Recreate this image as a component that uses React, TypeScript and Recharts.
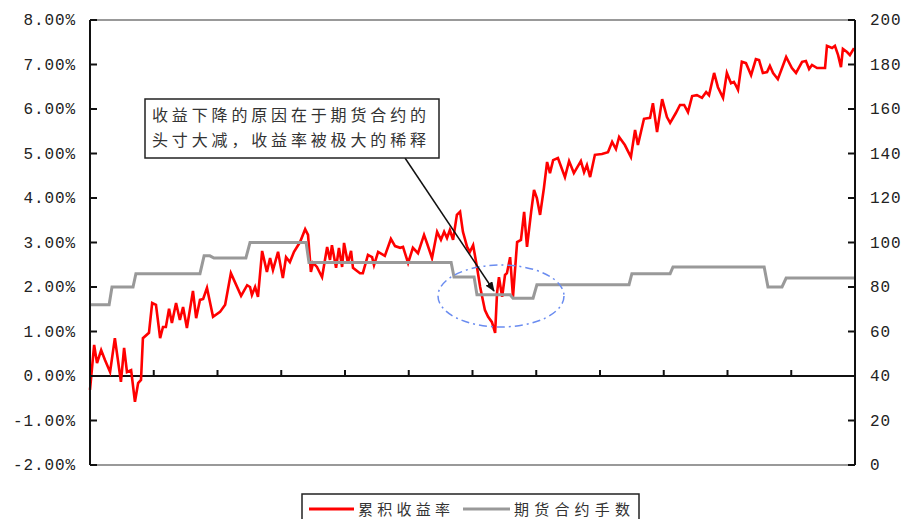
import React from "react";
import { LineChart, Line, XAxis, YAxis, ReferenceLine } from "recharts";

// cumulative return (%), trading-day index
const redDays = [
  0, 1.3, 2.2, 3.5, 4.7, 6.3, 7.8, 9.7, 10.7, 11.6, 12.9, 14.1, 15.1, 16.0, 16.6, 18.5, 19.5, 20.7, 22.0, 22.9,
  23.8, 24.8, 25.7, 27.0, 28.2, 29.2, 30.4, 32.3, 33.3, 34.5, 35.5, 36.7, 38.6, 40.8, 42.4, 44.2, 47.4, 49.3,
  50.2, 50.8, 51.8, 52.7, 54.0, 55.5, 56.5, 57.4, 59.0, 59.9, 60.5, 61.5, 62.7, 64.0, 65.9, 67.5, 68.4, 69.3,
  70.0, 71.2, 72.8, 74.4, 75.3, 75.9, 77.2, 78.1, 79.1, 79.7, 80.9, 81.9, 82.5, 84.7, 85.6, 87.2, 88.5, 89.1,
  90.4, 92.5, 94.4, 95.7, 97.3,
  98.2, 99.8, 101.3, 102.9, 104.8, 105.7, 107.3, 108.9, 110.1, 111.1, 112.0, 112.9, 113.9, 115.1, 116.1, 117.0,
  118.3, 119.2, 120.2, 121.4, 122.4, 123.9, 124.9, 126.1, 127.1, 127.7, 128.3, 129.3, 130.2, 130.8, 131.8, 132.7,
  134.0, 135.2, 136.2, 137.1, 138.4, 139.3, 140.2, 141.2, 142.4, 143.4, 144.3, 145.3,
  146.8, 149.0, 150.3, 151.8, 154.0, 155.0, 155.9, 156.9, 158.4, 160.6, 162.5, 163.8, 165.0, 166.0, 167.8, 169.7,
  171.0, 171.9, 173.8, 175.7, 176.6, 177.9, 179.5, 181.0, 182.0, 183.8, 185.1, 186.4, 187.6, 188.9, 190.4, 192.0,
  193.3, 194.2,
  195.8, 197.0, 198.6, 199.8, 201.1, 202.0, 202.7, 203.3, 204.5, 205.8, 207.4, 208.9, 209.9, 211.1, 212.4, 213.3,
  214.3, 215.8, 218.4, 220.2, 221.5, 223.4, 224.6, 225.6, 226.5, 228.1, 230.6, 231.2, 232.8, 233.7, 234.7, 235.6,
  236.2, 237.5, 238.4, 239.7,
];

const returns = [
  -0.31, 0.7, 0.29, 0.58, 0.36, 0.09, 0.85, -0.13, 0.63, 0.09, 0.13, -0.58, -0.16, -0.09, 0.85, 0.97, 1.64, 1.6, 0.85, 1.1,
  1.1, 1.51, 1.19, 1.64, 1.26, 1.55, 1.08, 1.91, 1.3, 1.71, 1.73, 1.98, 1.33, 1.44, 1.6, 2.31, 1.8, 2.04,
  2.0, 1.82, 2.0, 1.78, 2.81, 2.34, 2.65, 2.38, 2.79, 2.43, 2.2, 2.67, 2.56, 2.79, 3.01, 3.3, 3.17, 2.34,
  2.54, 2.45, 2.22, 2.9, 2.61, 2.94, 2.43, 2.88, 2.45, 2.99, 2.54, 2.81, 2.43, 2.31, 2.31, 2.72, 2.67, 2.49,
  2.79, 2.7, 3.08, 2.92, 2.88,
  2.9, 2.54, 2.88, 2.76, 3.17, 2.99, 2.65, 3.24, 3.06, 3.24, 3.1, 3.28, 3.06, 3.62, 3.69, 3.24,
  2.9, 2.79, 2.94, 2.45, 2.0, 1.48, 1.33, 1.21, 0.97, 1.87, 2.22, 1.78, 2.27, 2.31, 2.67, 1.78,
  3.01, 3.06, 3.69, 2.9, 3.69, 4.18, 4.0, 3.62, 4.22, 4.81, 4.56, 4.85,
  4.9, 4.47, 4.83, 4.56, 4.83, 4.58, 4.74, 4.47, 4.97, 4.99, 5.03, 5.26, 5.1, 5.37, 5.19, 4.92,
  5.53, 5.19, 5.78, 5.8, 6.13, 5.48, 6.22, 5.82, 5.69, 5.91, 6.09, 6.09, 5.93, 6.29, 6.31, 6.25,
  6.38, 6.31,
  6.81, 6.49, 6.25, 6.81, 6.58, 6.61, 6.52, 6.43, 7.06, 7.03, 6.76, 7.12, 7.1, 6.81, 6.83, 6.97,
  6.81, 6.67, 7.17, 6.92, 6.81, 7.06, 7.08, 6.9, 6.99, 6.92, 6.92, 7.42, 7.37, 7.42, 7.21, 6.94,
  7.35, 7.28, 7.21, 7.37,
];

// number of futures contracts held (right axis)
const grayDays = [
  0, 6.0, 6.9, 13.5, 14.4, 34.5, 35.8, 37.6, 38.9, 48.9, 50.2, 67.8, 68.7, 113.3, 114.2, 120.5, 121.4,
  131.8, 132.7, 139.0, 140.2, 169.1, 170.0, 182.0, 182.9, 211.5, 212.7, 217.1, 218.4, 240,
];
const contracts = [
  72, 72, 80, 80, 86, 86, 94, 94, 93, 93, 100, 100, 91, 91, 84.5, 84.5, 76.5,
  76.5, 75, 75, 81, 81, 86, 86, 89, 89, 80, 80, 84, 84,
];

const leftTicks = [-2, -1, 0, 1, 2, 3, 4, 5, 6, 7, 8];
const rightTicks = [0, 20, 40, 60, 80, 100, 120, 140, 160, 180, 200];
const xTicks = [0, 20, 40, 60, 80, 100, 120, 140, 160, 180, 200, 220, 240];

const W = 903;
const H = 519;
const TOP = 20;
const BOTTOM = 465;
const LEFT = 90;
const RIGHT = 855;
const ZERO_Y = TOP + (BOTTOM - TOP) * 0.8;

const tickFont = { fontFamily: "'Liberation Mono', 'DejaVu Sans Mono', monospace", fontSize: 16, fill: "#222" };

const rows = new Map<number, any>();
redDays.forEach((d, i) => rows.set(d, { ...(rows.get(d) || { day: d }), ret: returns[i] }));
grayDays.forEach((d, i) => rows.set(d, { ...(rows.get(d) || { day: d }), contracts: contracts[i] }));
const data = Array.from(rows.values()).sort((a, b) => a.day - b.day);

function LeftTick({ x, y, payload }: any) {
  const ax = x + 14;
  return (
    <g>
      <line x1={ax} x2={ax + 7} y1={y} y2={y} stroke="#111" strokeWidth={2} />
      <text x={x} y={y} dy={5} textAnchor="end" {...tickFont} letterSpacing={0.9}>
        {payload.value.toFixed(2) + "%"}
      </text>
    </g>
  );
}

function RightTick({ x, y, payload }: any) {
  const ax = x - 15;
  return (
    <g>
      <line x1={ax - 7} x2={ax} y1={y} y2={y} stroke="#111" strokeWidth={2} />
      <text x={x} y={y} dy={5} textAnchor="start" {...tickFont} letterSpacing={0.9}>
        {payload.value}
      </text>
    </g>
  );
}

function XTick({ x }: any) {
  return <line x1={x} x2={x} y1={ZERO_Y} y2={ZERO_Y - 6} stroke="#111" strokeWidth={2} />;
}

export default function App() {
  return (
    <div style={{ position: "fixed", left: 0, top: 0, width: W, height: H, overflow: "hidden", background: "#fff" }}>
      <LineChart
        width={W}
        height={H}
        data={data}
        margin={{ top: TOP, right: 0, left: 0, bottom: H - BOTTOM - 1 }}
      >
        <XAxis
          dataKey="day"
          type="number"
          domain={[0, 240]}
          ticks={xTicks}
          interval={0}
          height={1}
          axisLine={{ stroke: "#999", strokeWidth: 2 }}
          tickLine={false}
          tick={(p: any) => <XTick {...p} />}
        />
        <YAxis
          yAxisId="left"
          domain={[-2, 8]}
          ticks={leftTicks}
          interval={0}
          width={LEFT}
          tickSize={0}
          tickMargin={14}
          tickLine={false}
          axisLine={{ stroke: "#111", strokeWidth: 2 }}
          tick={(p: any) => <LeftTick {...p} />}
        />
        <YAxis
          yAxisId="right"
          orientation="right"
          domain={[0, 200]}
          ticks={rightTicks}
          interval={0}
          width={W - RIGHT}
          tickSize={0}
          tickMargin={15}
          tickLine={false}
          axisLine={{ stroke: "#111", strokeWidth: 2 }}
          tick={(p: any) => <RightTick {...p} />}
        />
        <ReferenceLine yAxisId="left" y={8} stroke="#999" strokeWidth={2} />
        <ReferenceLine yAxisId="left" y={0} stroke="#111" strokeWidth={2} />
        <Line
          yAxisId="left"
          dataKey="ret"
          type="linear"
          stroke="#ff0000"
          strokeWidth={2.6}
          dot={false}
          connectNulls
          isAnimationActive={false}
        />
        <Line
          yAxisId="right"
          dataKey="contracts"
          type="linear"
          stroke="#999999"
          strokeWidth={3}
          dot={false}
          connectNulls
          isAnimationActive={false}
        />
      </LineChart>

      <svg width={W} height={H} style={{ position: "absolute", left: 0, top: 0, pointerEvents: "none" }}>
        <defs>
          <marker id="arrowHead" markerWidth="10" markerHeight="8" refX="9" refY="4" orient="auto" markerUnits="userSpaceOnUse">
            <path d="M0,0 L10,4 L0,8 z" fill="#111" />
          </marker>
        </defs>
        {/* annotation */}
        <ellipse cx={501} cy={296} rx={63} ry={31} fill="none" stroke="#6a8cf0" strokeWidth={1.5} strokeDasharray="8 4 2 4" />
        <line x1={405} y1={158} x2={494} y2={291} stroke="#111" strokeWidth={1.5} markerEnd="url(#arrowHead)" />
        <rect x={145} y={99} width={294} height={59} fill="#fff" stroke="#222" strokeWidth={1.5} />
        <text x={152} y={121} fontFamily="'Noto Sans CJK SC', sans-serif" fontSize={16} fill="#333" textLength={274} lengthAdjust="spacing">
          收益下降的原因在于期货合约的
        </text>
        <text x={152} y={146} fontFamily="'Noto Sans CJK SC', sans-serif" fontSize={16} fill="#333" textLength={274} lengthAdjust="spacing">
          头寸大减，收益率被极大的稀释
        </text>

        {/* legend */}
        <rect x={302} y={494} width={337} height={32} fill="#fff" stroke="#222" strokeWidth={1.5} />
        <line x1={309} x2={354} y1={509} y2={509} stroke="#ff0000" strokeWidth={3} />
        <text x={358} y={515} fontFamily="'Noto Sans CJK SC', sans-serif" fontSize={15} fill="#333" textLength={92} lengthAdjust="spacing">
          累积收益率
        </text>
        <line x1={463} x2={510} y1={509} y2={509} stroke="#999999" strokeWidth={3} />
        <text x={514} y={515} fontFamily="'Noto Sans CJK SC', sans-serif" fontSize={15} fill="#333" textLength={116} lengthAdjust="spacing">
          期货合约手数
        </text>
      </svg>
    </div>
  );
}
